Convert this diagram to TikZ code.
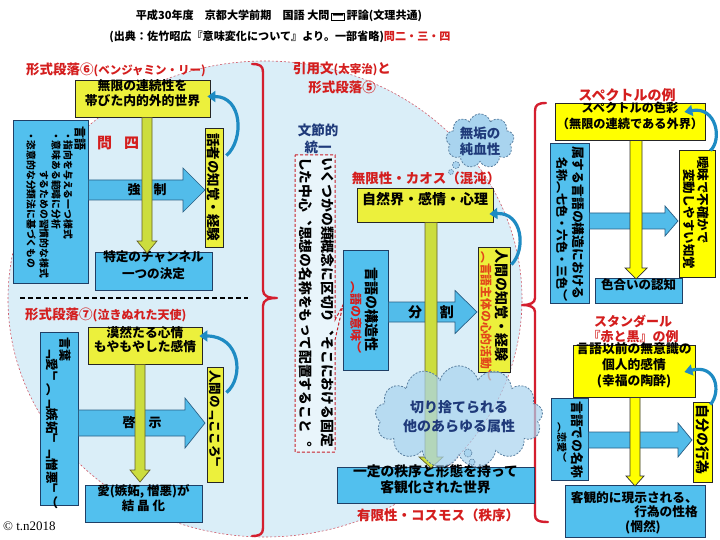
\documentclass[tikz,border=0pt]{standalone}
\usepackage{fontspec}
\setmainfont{Noto Sans CJK JP}
\newfontfamily\vjp{Noto Sans CJK JP}[Vertical=RotatedGlyphs]
\newfontfamily\serifc{Liberation Serif}
\usetikzlibrary{fit,shapes.symbols,calc,arrows.meta}
\definecolor{bgblue}{HTML}{DAEEF8}
\definecolor{boxblue}{HTML}{52C0EE}
\definecolor{bedge}{HTML}{1F3F66}
\definecolor{ylw}{HTML}{ECF03C}
\definecolor{ylwR}{HTML}{FFFF00}
\definecolor{arrYG}{HTML}{CCDD3E}
\definecolor{arrblue}{HTML}{52BCEA}
\definecolor{arredge}{HTML}{2A5F85}
\definecolor{curveblue}{HTML}{1E8BC3}
\definecolor{redtxt}{HTML}{D41E1E}
\definecolor{navy}{HTML}{1F3A7A}
\definecolor{cloudfill}{HTML}{A9D4EF}
\definecolor{cloudedge}{HTML}{5A7FA0}
\definecolor{orred}{HTML}{E2471A}
\definecolor{ellred}{HTML}{D05A6A}
\definecolor{calred}{HTML}{C8202A}
\definecolor{bracered}{HTML}{D41E2E}
\setlength\fboxsep{0.6pt}
\setlength\fboxrule{0.6pt}
\newcommand\hfatarrow[7]{\draw[#7] (#1,#4-#5) -- (#2,#4-#5) -- (#2,#4-#6) -- (#3,#4) -- (#2,#4+#6) -- (#2,#4+#5) -- (#1,#4+#5) -- cycle;}
\newcommand\vfatarrow[7]{\draw[#7] (#1-#5,#2) -- (#1-#5,#3) -- (#1-#6,#3) -- (#1,#4) -- (#1+#6,#3) -- (#1+#5,#3) -- (#1+#5,#2) -- cycle;}
\tikzset{
 fs/.style 2 args={font=\bfseries\fontsize{#1}{#2}\selectfont},
 vfs/.style 2 args={font=\vjp\bfseries\fontsize{#1}{#2}\selectfont},
 bbox/.style={draw=bedge, line width=0.8pt, fill=boxblue, inner sep=0pt, align=center, font=\bfseries},
 ybox/.style={draw=black!85, line width=0.8pt, fill=ylw, inner sep=0pt, align=center, font=\bfseries},
 vt/.style={rotate=-90, anchor=west, inner sep=0pt},
 ht/.style={inner sep=0pt, align=center},
 redt/.style={ht, text=redtxt},
 harr/.style={draw=arredge, line width=0.7pt, fill=arrblue},
 varr/.style={draw=olive!60!black, line width=0.7pt, fill=arrYG},
 varrR/.style={draw=black!80, line width=0.7pt, fill=ylwR},
 curv/.style={draw=curveblue, line width=3.2pt, -{Triangle[length=8pt,width=11pt]}},
 cloudn/.style={cloud, align=center, draw=cloudedge, dash pattern=on 2pt off 1.5pt, line width=0.8pt, fill=cloudfill, inner sep=0pt},
 bubble/.style={circle, draw=cloudedge, dash pattern=on 1.5pt off 1pt, line width=0.6pt, fill=cloudfill, inner sep=0pt},
 brace/.style={draw=bracered, line width=2.4pt, line cap=round, line join=round},
 callout/.style={draw=calred, dash pattern=on 3pt off 2pt, line width=1pt, fill=bgblue!60!white},
}
\begin{document}
\begin{tikzpicture}[x=1pt,y=-1pt]
\useasboundingbox (0,0) rectangle (720,540);
\fill[white] (0,0) rectangle (720,540);
% background ellipse
\draw[fill=bgblue, draw=ellred, dash pattern=on 2pt off 2pt, line width=0.6pt] (265,299) ellipse [x radius=257pt, y radius=238pt];
% braces
\draw[brace] (252,64) .. controls (260,64) and (263,66) .. (263,72) -- (263,290) .. controls (263,296) and (268,298) .. (277,298) .. controls (268,298) and (263,300) .. (263,306) -- (263,528) .. controls (263,534) and (260,536) .. (252,536);
\draw[brace] (546,103) .. controls (538,103) and (535,105) .. (535,111) -- (535,298) .. controls (535,303) and (530,305) .. (522,305) .. controls (530,305) and (535,307) .. (535,312) -- (535,515) .. controls (535,520) and (538,522) .. (548,522);
% title
\node[ht, fs={11.1}{14}] (title1) at (279,16) {平成30年度　京都大学前期　国語 大問\,\fbox{一}\,評論(文理共通)};
\node[ht, fs={11.1}{14}] (title2) at (280,37) {(出典：佐竹昭広『意味変化について』より。一部省略)\textcolor{redtxt}{問二・三・四}};
% ===== left upper =====
\node[redt, anchor=west, fs={13.5}{15}] (h6) at (26,70) {形式段落⑥{\fontsize{11.5}{12}\selectfont(ベンジャミン・リー)}};
\node[ybox, fs={12.8}{15}, fit={(75,80)(210,117)}] (L1) {無限の連続性を\\帯びた内的外的世界};
\node[bbox, fit={(13,120)(88,283)}] (L2) {};
\node[vt, vfs={12}{12}] (L2a) at (80,126) {言語};
\node[vt, vfs={9.8}{10}] (L2b) at (68,131) {・指向を与える一つ様式};
\node[vt, vfs={9.8}{10}] (L2c) at (56,131) {・意味ある範疇に分析};
\node[vt, vfs={9.8}{10}] (L2d) at (44,170) {するための習慣的な様式};
\node[vt, vfs={9.8}{10}] (L2e) at (31,131) {・恣意的な分類法に基づくもの};
\node[redt, fs={15}{16}] (Q4) at (118,143) {問\hspace{12pt}四};
\node[ybox, fit={(205,128)(223,247)}] (L3) {};
\node[vt, vfs={13.5}{14}] (L3t) at (214,133) {話者の知覚・経験};
\node[bbox, fs={12.6}{17}, align=left, fit={(95,252)(212,290)}] (L4) {特定のチャンネル\\一つの決定};
\hfatarrow{88.5}{183}{205}{190}{10}{22}{harr}
\vfatarrow{147}{117.5}{241}{253}{5}{10}{varr}
\node[ht, fs={13}{14}] (A1) at (147,190) {強　制};
\draw[curv] ($(L3.north east)+(3,28)$) .. controls ($(L3.north east)+(21,12)$) and ($(L1.east)+(32,-2)$) .. ($(L1.east)+(-3,-2)$);
% separator
\draw[black, line width=1.8pt, dash pattern=on 5pt off 3pt] (20,298) -- (248,298);
% ===== left lower =====
\node[redt, anchor=west, fs={13.5}{15}] (h7) at (25,315) {形式段落⑦{\fontsize{12}{12}\selectfont(泣きぬれた天使)}};
\node[ybox, fs={12.8}{14}, fit={(88,327)(202,364)}] (L5) {漠然たる心情\\もやもやした感情};
\node[bbox, fit={(40,332)(78,505)}] (L6) {};
\node[vt, vfs={12}{12}] (L6a) at (65,337) {言葉};
\node[vt, vfs={12.5}{13}] (L6b) at (52,346) {「愛」（「嫉妬」「憎悪」）};
\node[ybox, fit={(207,367)(223,482)}] (L7) {};
\node[vt, vfs={12.5}{13}] (L7t) at (215,370) {人間の「こころ」};
\node[bbox, fs={12.5}{15}, fit={(85,485)(202,522)}] (L8) {愛(嫉妬, 憎悪)が\\結 晶 化};
\hfatarrow{78.5}{185}{205}{423}{13}{25}{harr}
\vfatarrow{140}{364.5}{470}{482}{5}{10}{varr}
\node[ht, fs={13}{14}] (A2) at (142,423) {啓　示};
\draw[curv] ($(L7.north east)+(3,26)$) .. controls ($(L7.north east)+(21,11)$) and ($(L5.east)+(38,-9.5)$) .. ($(L5.east)+(-3,-9.5)$);
\node[inner sep=0pt, anchor=west, font=\serifc\fontsize{13}{14}\selectfont] (copy) at (3,526) {© t.n2018};
% ===== middle =====
\node[redt, fs={13.5}{19}] (h5) at (342,77.5) {引用文{\fontsize{11.5}{12}\selectfont(太宰治)}と\\形式段落⑤};
\node[ht, text=navy, fs={13.5}{17}] (bs) at (318,139) {文節的\\統一};
\draw[callout] (295,155) -- (335,155) -- (335,320) -- (343,305) -- (335,340) -- (335,452) -- (295,452) -- cycle;
\node[vt, vfs={13.8}{14}] (C1) at (327.5,157) {いくつかの類概念に区切り、そこにおける固定};
\node[vt, vfs={13.8}{14}] (C2) at (305.5,157) {した中心、思想の名称をもって配置すること。};
\node[cloudn, cloud puffs=9, aspect=1.5, minimum width=66pt, minimum height=46pt, text=navy, fs={13.5}{16}] (K1) at (480,141) {無垢の\\純血性};
\node[bubble, minimum size=7pt] (K1b1) at (456,165) {};
\node[bubble, minimum size=5pt] (K1b2) at (451,172) {};
\node[redt, fs={13.5}{15}] (chaos) at (426,178) {無限性・カオス（混沌）};
\node[ybox, fs={14}{15}, fit={(357,188)(493,222)}] (M1) {自然界・感情・心理};
\node[bbox, fit={(343,250)(388,370)}] (M2) {};
\node[vt, vfs={14}{14}] (M2a) at (372,267) {言語の構造性};
\node[vt, vfs={12}{12}, text=redtxt] (M2b) at (356,281) {（語の意味）};
\node[ybox, fit={(478,247)(510,372)}] (M3) {};
\node[vt, vfs={14}{14}] (M3a) at (502,249) {人間の知覚・経験};
\node[vt, vfs={11.8}{12}, text=orred] (M3b) at (486,251) {（言語主体の心的活動）};
\node[bbox, fs={13.8}{15.5}, fit={(337,467)(534,503)}] (M4) {一定の秩序と形態を持って\\客観化された世界};
\hfatarrow{388.5}{455}{477}{312}{10}{21.5}{harr}
\vfatarrow{431}{222.5}{457}{468}{6}{12}{varr}
\node[ht, fs={14}{15}] (A3) at (431,312) {分\hspace{18pt}割};
\draw[curv] ($(M3.north east)+(1,18)$) .. controls ($(M3.north east)+(16,3)$) and ($(M1.east)+(29,7)$) .. ($(M1.east)+(-4,9)$);
\node[cloudn, cloud puffs=13, aspect=2.1, minimum width=124pt, minimum height=60pt, fill opacity=0.7, text opacity=1, text=navy, fs={14}{19}] (K2) at (459,417) {切り捨てられる\\他のあらゆる属性};
\node[bubble, minimum size=8pt] (K2b1) at (468,453) {};
\node[bubble, minimum size=6pt] (K2b2) at (472,462) {};
\node[redt, fs={13.5}{15}] (cosmos) at (438,515) {有限性・コスモス（秩序）};
% ===== right upper =====
\node[redt, fs={14}{15}] (hs) at (627,95) {スペクトルの例};
\node[ybox, fill=ylwR, fs={12.2}{16}, fit={(555,103)(705,140)}] (R1) {スペクトルの色彩\\（無限の連続である外界）};
\node[bbox, fit={(550,143)(589,303)}] (R2) {};
\node[vt, vfs={12.8}{13}] (R2a) at (578,146) {属する言語の構造における};
\node[vt, vfs={12}{12}] (R2b) at (562,157) {名称（七色・六色・三色）};
\node[ybox, fill=ylwR, fit={(679,150)(715,277)}] (R3) {};
\node[vt, vfs={12.5}{13}] (R3a) at (703,156) {曖昧で不確かで};
\node[vt, vfs={12.5}{13}] (R3b) at (689,169) {変動しやすい知覚};
\node[bbox, fs={12.5}{14}, fit={(595,278)(682,303)}] (R4) {色合いの認知};
\hfatarrow{589.5}{665}{678}{221}{8}{15}{harr}
\vfatarrow{636}{140.5}{268}{279}{6}{11}{varrR}
\draw[curv] ($(R3.north east)+(-5,1)$) .. controls ($(R3.north east)+(7,-10)$) and ($(R1.east)+(11,-15.5)$) .. ($(R1.east)+(-21,-9.5)$);
% ===== right lower =====
\node[redt, fs={13}{14.5}] (hst) at (633,329) {スタンダール\\『赤と黒』の例};
\node[ybox, fill=ylwR, fs={12.8}{16}, fit={(573,345)(695,397)}] (R5) {言語以前の無意識の\\個人的感情\\(幸福の陶酔)};
\node[bbox, fit={(551,398)(588,480)}] (R6) {};
\node[vt, vfs={12.8}{13}] (R6a) at (577,401) {言語での名称};
\node[vt, vfs={10}{10}] (R6b) at (562,422) {（恋愛）};
\node[ybox, fill=ylwR, fit={(693,402)(712,482)}] (R7) {};
\node[vt, vfs={14}{14}] (R7t) at (702.5,404) {自分の行為};
\node[bbox, fit={(565,485)(705,537)}] (R8) {};
\node[ht, fs={12.7}{14}, anchor=east, align=right] (R8a) at (698,505) {客観的に現示される、\\行為の性格};
\node[ht, fs={12.7}{14}] (R8b) at (643,527) {(惘然)};
\hfatarrow{588.5}{678}{692}{440}{8}{17}{harr}
\vfatarrow{635}{397.5}{476}{486}{5}{9}{varrR}
\draw[curv] ($(R7.north east)+(-2,3)$) .. controls ($(R7.north east)+(9,-10)$) and ($(R5.east)+(21,-7)$) .. ($(R5.east)+(-11,1)$);
\end{tikzpicture}
\end{document}
